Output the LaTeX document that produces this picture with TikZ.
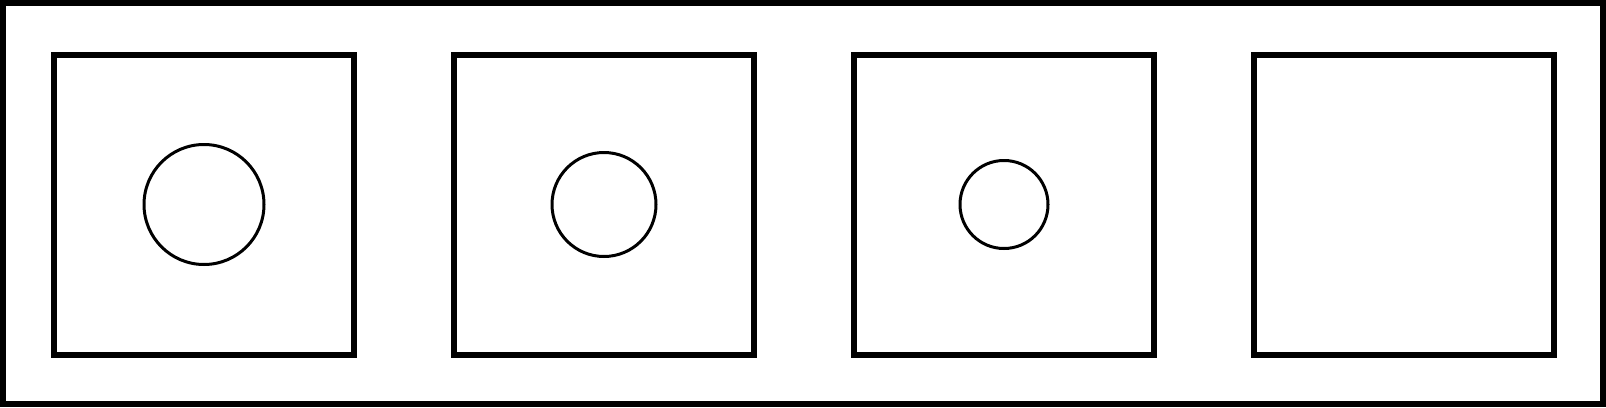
\documentclass[tikz,border=0pt]{standalone}
\begin{document}
\begin{tikzpicture}[
x=1pt, y=-1pt,
panel/.style={
draw,
line width=6pt,
minimum size=300pt,
inner sep=0pt
},
dot/.style={
draw,
circle,
line width=3pt,
inner sep=0pt
}
]

\useasboundingbox (0,0) rectangle (1606,407);

\draw[line width=6pt] (3,3) rectangle (1603,404);

\node[panel] (S1) at (204,204.5) {};
\node[panel] (S2) at (604,204.5) {};
\node[panel] (S3) at (1004,204.5) {};
\node[panel] (S4) at (1404,204.5) {};

\node[dot, minimum size=120pt] (C1) at (S1.center) {};
\node[dot, minimum size=104pt] (C2) at (S2.center) {};
\node[dot, minimum size=88pt] (C3) at (S3.center) {};

\end{tikzpicture}
\end{document}
